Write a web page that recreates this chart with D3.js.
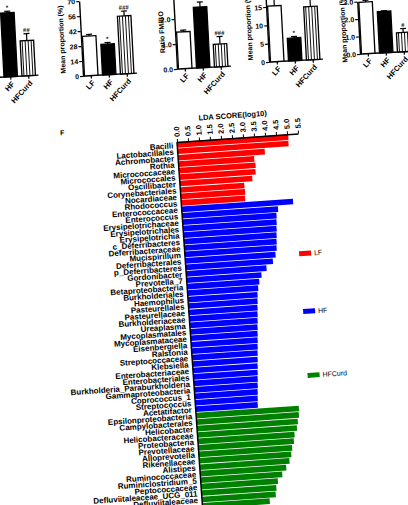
<!DOCTYPE html>
<html lang="en">
<head>
<meta charset="UTF-8">
<title>LDA score</title>
<script src="https://cdn.jsdelivr.net/npm/d3@7"></script>
<style>
  body { margin: 0; background: #fff; }
  svg { display: block; font-family: "Liberation Sans", Arial, sans-serif; }
</style>
</head>
<body>
<svg width="408" height="505"></svg>
<script>
var groups = ["LF", "HF", "HFCurd"];

// top row of small bar panels (cut off in the figure)
var p1Values = [68, 82, 45], p1Errors = [3, 2, 9], p1Marks = ["", "*", "##"];
var p2Values = [37, 28.5, 54], p2Errors = [1.5, 1.5, 4.5], p2Marks = ["", "*", "###"];
var p3Values = [1.47, 2.43, 0.91], p3Errors = [0.07, 0.2, 0.3], p3Marks = ["", "*", "###"];
var p4Values = [15.2, 6.2, 14.5], p4Errors = [3, 0.4, 4], p4Marks = ["", "*", ""];
var p5Values = [2.95, 2.36, 1.1], p5Errors = [0.1, 0.04, 0.22], p5Marks = ["", "", "#"];
var p1Ticks = [];   // its axis lies outside the crop
var p2Ticks = [0, 14, 28, 42, 56, 70];
var p3Ticks = [0, 1, 2];
var p4Ticks = [0, 5, 10, 15, 20];
var p5Ticks = [0, 1, 2, 3];

// panel F, LDA scores
var lfTaxa = ["Bacilli", "Lactobacillales", "Achromobacter", "Rothia", "Micrococcaceae",
  "Micrococcales", "Oscillibacter", "Corynebacteriales", "Nocardiaceae", "Rhodococcus"];
var lfScores = [5.05, 5.04, 3.94, 3.44, 3.48, 3.46, 3.29, 2.91, 2.92, 2.9];

var hfTaxa = ["Enterococcaceae", "Enterococcus", "Erysipelotrichaceae", "Erysipelotrichales",
  "Erysipelotrichia", "c_Deferribacteres", "Deferribacteraceae", "Mucispirillum",
  "Deferribacterales", "p_Deferribacteres", "Gordonibacter", "Prevotella_7",
  "Betaproteobacteria", "Burkholderiales", "Haemophilus", "Pasteurellales",
  "Pasteurellaceae", "Burkholderiaceae", "Ureaplasma", "Mycoplasmatales",
  "Mycoplasmataceae", "Eisenbergiella", "Ralstonia", "Streptococcaceae", "Klebsiella",
  "Enterobacteriaceae", "Enterobacteriales", "Burkholderia_Paraburkholderia",
  "Gammaproteobacteria", "Coprococcus_1", "Streptococcus", "Acetatifactor"];
var hfScores = [5.06, 4.36, 4.27, 4.25, 4.23, 4.21, 4.19, 4.17, 4.1, 3.96, 3.65, 3.4,
  3.28, 3.21, 3.16, 3.14, 3.12, 3.1, 3.08, 3.06, 3.04, 3.02, 3.0, 2.98, 2.96, 2.94,
  2.92, 2.9, 2.88, 2.86, 2.84, 2.82];

var curdTaxa = ["Epsilonproteobacteria", "Campylobacterales", "Helicobacter",
  "Helicobacteraceae", "Proteobacteria", "Prevotellaceae", "Alloprevotella",
  "Rikenellaceae", "Alistipes", "Ruminococcaceae", "Ruminiclostridium_5",
  "Peptococcaceae", "Defluviitaleaceae_UCG_011", "Defluviitaleaceae", "Faecalicatena_group"];
var curdScores = [4.67, 4.65, 4.58, 4.52, 4.39, 4.34, 4.24, 4.18, 4.08, 3.91, 3.71,
  3.49, 3.4, 3.35, 3.06];

var ldaTicks = [0, 0.5, 1, 1.5, 2, 2.5, 3, 3.5, 4, 4.5, 5, 5.5];
var colors = {LF: "#ff0000", HF: "#0000ff", HFCurd: "#008000"};

var svg = d3.select("svg");

// vertical stripes for the HFCurd bars
svg.append("defs").append("pattern")
    .attr("id", "stripes")
    .attr("patternUnits", "userSpaceOnUse")
    .attr("width", 3).attr("height", 10)
  .call(function(p) {
    p.append("rect").attr("width", 3).attr("height", 10).attr("fill", "#fff");
    p.append("rect").attr("width", 1).attr("height", 10).attr("fill", "#111");
  });

function panel(cfg, values, errors, marks, ticks, title) {
  var g = svg.append("g")
      .attr("transform", "translate(" + cfg.x + "," + cfg.y + ") rotate(-3)");
  var y = d3.scaleLinear().domain([0, cfg.max]).range([0, -cfg.h]);
  var x = d3.scaleBand().domain(groups).range([-0.75, 53.25])
      .paddingInner(0.25).paddingOuter(0.125);

  var ax = g.append("g")
      .call(d3.axisLeft(y).tickValues(ticks).tickSize(3).tickSizeOuter(0).tickPadding(1));
  ax.select(".domain").attr("stroke-width", 1.4);
  ax.selectAll("line").attr("stroke-width", 1.2);
  ax.selectAll("text").attr("font-size", 7).attr("font-weight", "bold")
      .attr("font-family", "Liberation Sans, Arial, sans-serif");

  g.append("line").attr("x1", 0).attr("x2", 54).attr("y1", 0).attr("y2", 0)
      .attr("stroke", "#000").attr("stroke-width", 1.4);

  groups.forEach(function(k, i) {
    var cx = x(k) + x.bandwidth() / 2;
    var barTop = y(values[i]), errTop = y(values[i] + errors[i]);
    g.append("line").attr("x1", cx).attr("x2", cx).attr("y1", 0).attr("y2", 3)
        .attr("stroke", "#000").attr("stroke-width", 1.2);
    g.append("line").attr("x1", cx).attr("x2", cx).attr("y1", barTop).attr("y2", errTop)
        .attr("stroke", "#000").attr("stroke-width", 1.2);
    g.append("line").attr("x1", cx - 3).attr("x2", cx + 3).attr("y1", errTop).attr("y2", errTop)
        .attr("stroke", "#000").attr("stroke-width", 1.2);
    g.append("rect")
        .attr("x", x(k)).attr("y", barTop)
        .attr("width", x.bandwidth()).attr("height", -barTop)
        .attr("fill", i === 0 ? "#fff" : i === 1 ? "#000" : "url(#stripes)")
        .attr("stroke", "#000").attr("stroke-width", 1.3);
    if (marks[i]) {
      g.append("text").attr("x", cx).attr("y", errTop - 1.5)
          .attr("text-anchor", "middle").attr("font-size", 6).attr("font-weight", "bold")
          .text(marks[i]);
    }
    g.append("text")
        .attr("transform", "translate(" + (cx + 2) + ",6) rotate(-45)")
        .attr("text-anchor", "end").attr("dy", "0.35em")
        .attr("font-size", 7.5).attr("font-weight", "bold")
        .text(k);
  });

  if (title) {
    g.append("text")
        .attr("transform", "translate(" + cfg.tx + "," + (-cfg.h / 2) + ") rotate(-90)")
        .attr("text-anchor", "middle").attr("font-size", 7).attr("font-weight", "bold")
        .text(title);
  }
}

panel({x: -15.5, y: 78, h: 78, max: 100, tx: -18}, p1Values, p1Errors, p1Marks, p1Ticks, "");
panel({x: 83, y: 76, h: 75, max: 70, tx: -17}, p2Values, p2Errors, p2Marks, p2Ticks, "Mean proportion (%)");
panel({x: 177, y: 69, h: 75, max: 3, tx: -11}, p3Values, p3Errors, p3Marks, p3Ticks, "Ratio FM/BO");
panel({x: 269, y: 62, h: 73.4, max: 20, tx: -16}, p4Values, p4Errors, p4Marks, p4Ticks, "Mean proportion (%)");
panel({x: 360, y: 54, h: 52.5, max: 3, tx: -13}, p5Values, p5Errors, p5Marks, p5Ticks, "Mean proportion (%)");

// ---- panel F ----
var rows = [];
lfTaxa.forEach(function(t, i) { rows.push({name: t, score: lfScores[i], cls: "LF"}); });
hfTaxa.forEach(function(t, i) { rows.push({name: t, score: hfScores[i], cls: "HF"}); });
curdTaxa.forEach(function(t, i) { rows.push({name: t, score: curdScores[i], cls: "HFCurd"}); });

var lda = svg.append("g").attr("transform", "translate(177,142) rotate(-4)");
var lx = d3.scaleLinear().domain([0, 5.5]).range([0, 121.3]);
var ly = d3.scaleBand().domain(rows.map(function(d) { return d.name; }))
    .range([0, rows.length * 6.45]).paddingInner(0.12);

lda.selectAll("rect.bar").data(rows).enter().append("rect")
    .attr("class", "bar")
    .attr("x", 0)
    .attr("y", function(d) { return ly(d.name); })
    .attr("width", function(d) { return lx(d.score); })
    .attr("height", ly.bandwidth())
    .attr("fill", function(d) { return colors[d.cls]; });

lda.selectAll("text.taxon").data(rows).enter().append("text")
    .attr("class", "taxon")
    .attr("x", -4)
    .attr("y", function(d) { return ly(d.name) + ly.step() / 2; })
    .attr("dy", "0.35em")
    .attr("text-anchor", "end")
    .attr("font-size", 8).attr("font-weight", "bold")
    .text(function(d) { return d.name; });

lda.append("line").attr("x1", 0).attr("x2", 0).attr("y1", 0).attr("y2", rows.length * 6.45)
    .attr("stroke", "#000").attr("stroke-width", 1.5);

var topAxis = lda.append("g")
    .call(d3.axisTop(lx).tickValues(ldaTicks).tickFormat(d3.format(".1f"))
      .tickSize(3).tickSizeOuter(0));
topAxis.select(".domain").attr("stroke-width", 1.4);
topAxis.selectAll("text")
    .attr("transform", "rotate(-90)")
    .attr("x", 5).attr("y", 0).attr("dy", "0.35em")
    .attr("text-anchor", "start")
    .attr("font-size", 7.5).attr("font-weight", "bold")
    .attr("font-family", "Liberation Sans, Arial, sans-serif");

lda.append("text").attr("x", lx(2.6)).attr("y", -20)
    .attr("text-anchor", "middle").attr("font-size", 7.5).attr("font-weight", "bold")
    .text("LDA SCORE(log10)");

lda.append("text").attr("x", -116).attr("y", -15)
    .attr("font-size", 7).attr("font-weight", "bold").text("F");

// legend
var legendY = [120, 178, 242];
groups.forEach(function(k, i) {
  lda.append("rect").attr("x", 114).attr("y", legendY[i] - 2.5)
      .attr("width", 12).attr("height", 5).attr("fill", colors[k]);
  lda.append("text").attr("x", 129).attr("y", legendY[i]).attr("dy", "0.35em")
      .attr("font-size", 7).text(k);
});
</script>
</body>
</html>
